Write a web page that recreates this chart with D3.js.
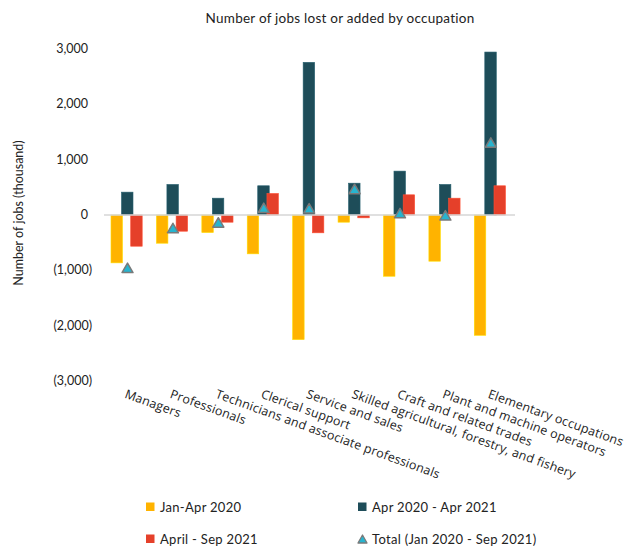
<!DOCTYPE html>
<html>
<head>
<meta charset="utf-8">
<script src="https://cdn.jsdelivr.net/npm/d3@7/dist/d3.min.js"></script>
<style>
  html, body { margin: 0; padding: 0; background: #fff; }
  svg { display: block; font-family: Lato, "Open Sans", sans-serif; }
</style>
</head>
<body>
<svg id="chart" width="626" height="548"></svg>
<script>
const categories = [
  "Managers",
  "Professionals",
  "Technicians and associate professionals",
  "Clerical support",
  "Service and sales",
  "Skilled agricultural, forestry, and fishery",
  "Craft and related trades",
  "Plant and machine operators",
  "Elementary occupations"
];
const janApr2020 = [-865, -510, -317, -702, -2252, -130, -1107, -835, -2174];
const apr2020Apr2021 = [413, 552, 304, 528, 2759, 575, 793, 552, 2945];
const aprSep2021 = [-564, -293, -130, 389, -322, -51, 365, 304, 528];
const totalJan2020Sep2021 = [-955, -235, -135, 130, 120, 470, 35, -5, 1310];
const yTicks = [3000, 2000, 1000, 0, -1000, -2000, -3000];
const seriesNames = ["Jan-Apr 2020", "Apr 2020 - Apr 2021", "April - Sep 2021", "Total (Jan 2020 - Sep 2021)"];
const colors = { yellow: "#FFB300", dark: "#1E4D59", red: "#E5402A", tri: "#27B4CF", triStroke: "#7a7a7a" };

const svg = d3.select("#chart");

const x = d3.scaleBand().domain(categories).range([104.3, 513]).paddingInner(0).paddingOuter(0);
const y = d3.scaleLinear().domain([-3000, 3000]).range([381, 49]);

// Title
svg.append("text")
  .attr("x", 340).attr("y", 23)
  .attr("text-anchor", "middle")
  .attr("font-size", 13.5)
  .attr("letter-spacing", 0.25)
  .attr("fill", "#222")
  .text("Number of jobs lost or added by occupation");

// Y axis label
svg.append("text")
  .attr("transform", `translate(23,${(y(3000)+y(-3000))/2 - 2}) rotate(-90)`)
  .attr("text-anchor", "middle")
  .attr("font-size", 12.5)
  .attr("fill", "#222")
  .text("Number of jobs (thousand)");

// Y tick labels (accounting format)
const fmt = d3.format(",");
svg.append("g").selectAll("text").data(yTicks).join("text")
  .attr("x", d => d < 0 ? 92 : 88)
  .attr("y", d => y(d) + 4)
  .attr("text-anchor", "end")
  .attr("font-size", 12.5)
  .attr("fill", "#222")
  .text(d => d < 0 ? `(${fmt(-d)})` : fmt(d));

const bw = 11.5;
function bars(data, offset, color, cls) {
  svg.append("g").selectAll("rect." + cls).data(data).join("rect")
    .attr("class", cls)
    .attr("x", (d, i) => x(categories[i]) + offset)
    .attr("width", bw)
    .attr("y", d => Math.min(y(d), y(0)))
    .attr("height", d => Math.abs(y(d) - y(0)))
    .attr("fill", color)
    .attr("stroke", d3.color(color).brighter(0.6))
    .attr("stroke-width", 0.6);
}
bars(janApr2020, 6.7, colors.yellow, "b1");
bars(apr2020Apr2021, 17.2, colors.dark, "b2");
bars(aprSep2021, 26.4, colors.red, "b3");

// Zero line
svg.append("line")
  .attr("x1", 104).attr("x2", 515)
  .attr("y1", y(0)).attr("y2", y(0))
  .attr("stroke", "#d6d6d6").attr("stroke-width", 1.5);

// Triangles
function triPath(cx, cy, w, h) {
  return `M${cx},${cy - h/2}L${cx + w/2},${cy + h/2}L${cx - w/2},${cy + h/2}Z`;
}
svg.append("g").selectAll("path").data(totalJan2020Sep2021).join("path")
  .attr("d", (d, i) => triPath(x(categories[i]) + x.bandwidth()/2 + 0.5, y(d), 11, 9.5))
  .attr("fill", colors.tri)
  .attr("stroke", colors.triStroke)
  .attr("stroke-width", 1.5)
  .attr("stroke-linejoin", "round");

// X labels
svg.append("g").selectAll("text").data(categories).join("text")
  .attr("transform", d => `translate(${x(d) + x.bandwidth()/2},389) rotate(20)`)
  .attr("y", 9)
  .attr("font-family", "'Open Sans', Lato, sans-serif")
  .attr("font-size", 12.4)
  .attr("letter-spacing", 0.2)
  .attr("fill", "#222")
  .text(d => d);

// Legend
const lg = svg.append("g");
const legendItems = [
  { name: seriesNames[0], color: colors.yellow, x: 146, y: 507, type: "rect" },
  { name: seriesNames[1], color: colors.dark, x: 358, y: 507, type: "rect" },
  { name: seriesNames[2], color: colors.red, x: 146, y: 539, type: "rect" },
  { name: seriesNames[3], color: colors.tri, x: 358, y: 539, type: "tri" }
];
legendItems.forEach(it => {
  if (it.type === "rect") {
    lg.append("rect").attr("x", it.x).attr("y", it.y - 4.5).attr("width", 8.5).attr("height", 8.5).attr("fill", it.color);
  } else {
    lg.append("path").attr("d", triPath(it.x + 4.5, it.y, 9, 8))
      .attr("fill", it.color).attr("stroke", colors.triStroke).attr("stroke-width", 1.3).attr("stroke-linejoin", "round");
  }
  lg.append("text").attr("x", it.x + 14).attr("y", it.y + 4.5)
    .attr("font-size", 13).attr("letter-spacing", 0.3).attr("fill", "#222").text(it.name);
});
</script>
</body>
</html>
